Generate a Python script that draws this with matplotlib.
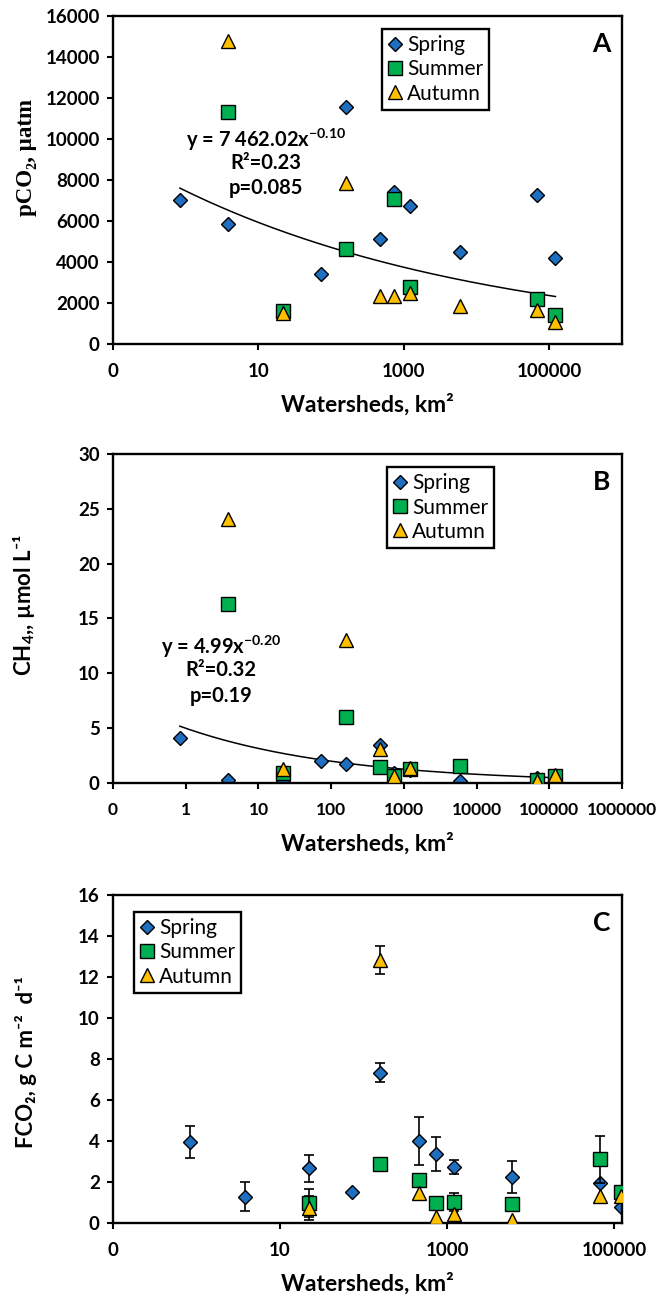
import numpy as np
import matplotlib
matplotlib.use('Agg')
import matplotlib.pyplot as plt
from matplotlib.ticker import NullLocator

plt.rcParams['font.family'] = ['Lato', 'DejaVu Sans']
plt.rcParams['font.weight'] = 'bold'
plt.rcParams['axes.labelweight'] = 'bold'
plt.rcParams['mathtext.fontset'] = 'custom'
plt.rcParams['mathtext.rm'] = 'Lato'
plt.rcParams['mathtext.bf'] = 'Lato:bold'
plt.rcParams['mathtext.it'] = 'Lato:italic'

nan = np.nan

# watershed area of each site, km2
areas = [0.83, 3.8, 22, 72, 158, 465, 740, 1220, 5950, 68000, 121000]

# A: pCO2, uatm
pco2_spring = [7000, 5850, nan, 3420, 11570, 5100, 7430, 6730, 4490, 7250, 4180]
pco2_summer = [nan, 11310, 1590, nan, 4630, nan, 7060, 2800, nan, 2200, 1390]
pco2_autumn = [nan, 14780, 1510, nan, 7870, 2320, 2320, 2480, 1870, 1670, 1060]
pco2_fit = (7462.02, -0.10)

# B: CH4, umol/L
ch4_spring = [4.1, 0.3, 0.2, 1.98, 1.7, 3.5, 0.9, 1.2, 0.22, 0.5, 0.3]
ch4_summer = [nan, 16.3, 0.9, nan, 6.0, 1.5, 0.6, 1.25, 1.55, 0.3, 0.65]
ch4_autumn = [nan, 24.1, 1.31, nan, 13.05, 3.07, 0.65, 1.4, nan, 0.2, 0.72]
ch4_fit = (4.99, -0.20)

# C: FCO2, g C m-2 d-1 (with error)
fco2_spring = [3.95, 1.28, 2.67, 1.5, 7.33, 4.0, 3.35, 2.75, 2.23, 1.93, 0.76]
fco2_spring_err = [0.78, 0.7, 0.65, 0, 0.45, 1.18, 0.84, 0.34, 0.78, 0, 0]
fco2_summer = [nan, nan, 0.96, nan, 2.88, 2.1, 0.96, 1.04, 0.91, 3.1, 1.53]
fco2_summer_err = [0, 0, 0.68, 0, 0, 0, 0, 0.44, 0, 1.16, 0]
fco2_autumn = [nan, nan, 0.72, nan, 12.83, 1.45, 0.31, 0.44, 0.15, 1.33, 1.33]
fco2_autumn_err = [0, 0, 0.6, 0, 0.7, 0, 0, 0, 0, 0, 0]

seasons = ['Spring', 'Summer', 'Autumn']
markers = {'Spring': ('D', 7.4, '#1F6FC0'),
           'Summer': ('s', 10.5, '#00B050'),
           'Autumn': ('^', 10, '#FFC000')}


def draw_points(ax, series, errors=None):
    for k, name in enumerate(seasons):
        y = np.array(series[k], dtype=float)
        x = np.array(areas, dtype=float)
        if errors is not None:
            e = np.array(errors[k], dtype=float)
            m = e > 0
            ax.errorbar(x[m], y[m], yerr=e[m], fmt='none', ecolor='black',
                        elinewidth=1.2, capsize=3.5, capthick=1.2, zorder=2 + k)
        mk, ms, col = markers[name]
        ax.plot(x, y, ls='none', marker=mk, ms=ms, mfc=col, mec='black',
                mew=1.0, label=name, zorder=2.5 + k)


def draw_fit(ax, coef):
    a, b = coef
    x = np.array(areas, dtype=float)
    xs = np.logspace(np.log10(x.min()), np.log10(x.max()), 200)
    ax.plot(xs, a * xs ** b, color='black', lw=1.1, zorder=1.5)


def style_axes(ax, xmax, xticks, xlabels, yticks, ylabel, ylab_y, letter,
               family=None, xsize=13.5):
    ax.set_xscale('log')
    ax.set_xlim(0.1, xmax)
    ax.set_ylim(yticks[0], yticks[-1])
    ax.set_xticks(xticks, xlabels)
    ax.set_yticks(yticks)
    ax.xaxis.set_minor_locator(NullLocator())
    ax.tick_params(direction='out', length=4.5, width=1.5, labelsize=13.5)
    ax.tick_params(axis='x', pad=9, labelsize=xsize)
    ax.tick_params(axis='y', pad=5)
    for s in ax.spines.values():
        s.set_linewidth(1.7)
    ax.set_xlabel('Watersheds, km²', fontsize=16.5)
    ax.xaxis.set_label_coords(0.5, -0.15)
    if family:
        ax.set_ylabel(ylabel, fontsize=16.5, family=family)
    else:
        ax.set_ylabel(ylabel, fontsize=16)
    ax.yaxis.set_label_coords(-0.15, ylab_y)
    ax.text(0.96, 0.915, letter, transform=ax.transAxes, fontsize=19,
            ha='center', va='center')


def add_legend(ax, anchor):
    leg = ax.legend(loc='upper left', bbox_to_anchor=anchor, frameon=True,
                    fancybox=False, edgecolor='black', framealpha=1,
                    prop={'weight': 'normal', 'size': 15}, handlelength=0.7,
                    handletextpad=0.2, labelspacing=0.2, borderpad=0.3,
                    borderaxespad=0, numpoints=1)
    leg.get_frame().set_linewidth(1.7)


fig = plt.figure(figsize=(6.57, 12.97), dpi=100)
axA = fig.add_axes([0.172, 0.7348, 0.775, 0.2529])
axB = fig.add_axes([0.172, 0.3963, 0.775, 0.2537])
axC = fig.add_axes([0.172, 0.0571, 0.775, 0.2529])

# A
draw_fit(axA, pco2_fit)
draw_points(axA, [pco2_spring, pco2_summer, pco2_autumn])
style_axes(axA, 1e6, [0.1, 10, 1000, 100000], ['0', '10', '1000', '100000'],
           list(range(0, 16001, 2000)), 'pCO₂, µatm', 0.567, 'A',
           family=['Liberation Serif', 'DejaVu Serif'])
add_legend(axA, (0.528, 0.96))
axA.text(0.30, 0.622, 'y = 7 462.02x$^{\\mathbf{-0.10}}$', transform=axA.transAxes,
         fontsize=14.5, ha='center', va='center')
axA.text(0.30, 0.552, 'R²=0.23', transform=axA.transAxes, fontsize=14.5,
         ha='center', va='center')
axA.text(0.30, 0.476, 'p=0.085', transform=axA.transAxes, fontsize=14.5,
         ha='center', va='center')

# B
draw_fit(axB, ch4_fit)
draw_points(axB, [ch4_spring, ch4_summer, ch4_autumn])
style_axes(axB, 1e6, [10.0 ** k for k in range(-1, 7)],
           ['0', '1', '10', '100', '1000', '10000', '100000', '1000000'],
           list(range(0, 31, 5)), 'CH$_{\\mathit{4}}$,, µmol L⁻¹', 0.541, 'B',
           xsize=12.5)
add_legend(axB, (0.538, 0.96))
axB.text(0.212, 0.413, 'y = 4.99x$^{\\mathbf{-0.20}}$', transform=axB.transAxes,
         fontsize=14.5, ha='center', va='center')
axB.text(0.212, 0.344, 'R²=0.32', transform=axB.transAxes, fontsize=14.5,
         ha='center', va='center')
axB.text(0.212, 0.264, 'p=0.19', transform=axB.transAxes, fontsize=14.5,
         ha='center', va='center')

# C
draw_points(axC, [fco2_spring, fco2_summer, fco2_autumn],
            [fco2_spring_err, fco2_summer_err, fco2_autumn_err])
style_axes(axC, 1.25e5, [0.1, 10, 1000, 100000], ['0', '10', '1000', '100000'],
           list(range(0, 17, 2)), 'FCO₂, g C m⁻²  d⁻¹', 0.49, 'C')
add_legend(axC, (0.041, 0.948))

fig.savefig('out.png', dpi=100)
